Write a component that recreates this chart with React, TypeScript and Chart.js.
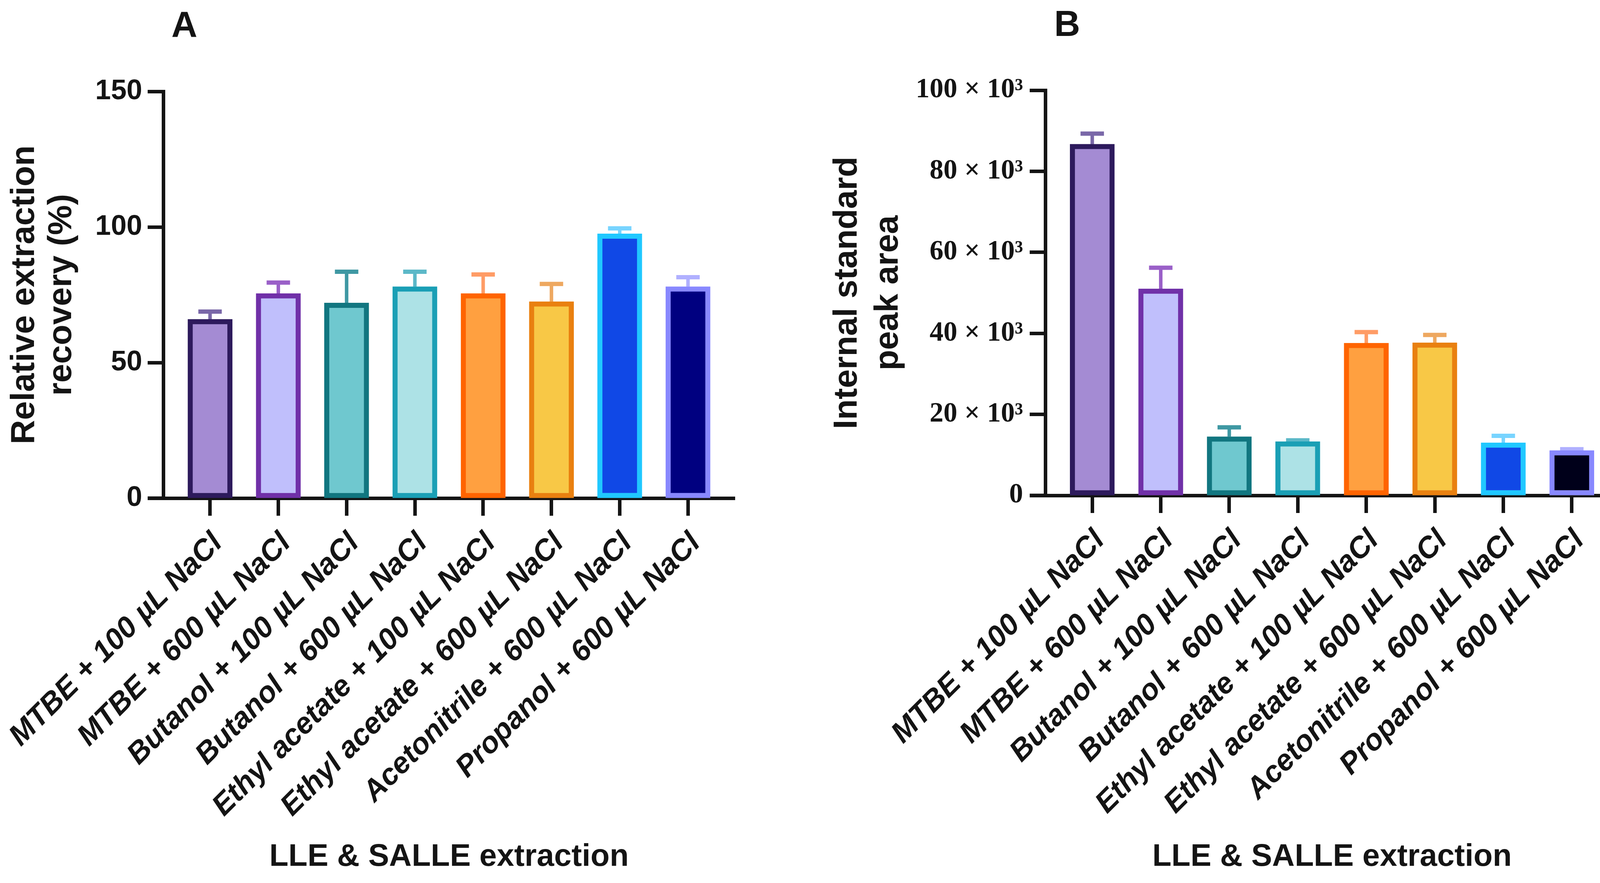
import { useEffect, useRef } from "react"
import { Chart, registerables } from "chart.js"

Chart.register(...registerables)

// data
const solvents = [
  "MTBE + 100 µL NaCl",
  "MTBE + 600 µL NaCl",
  "Butanol + 100 µL NaCl",
  "Butanol + 600 µL NaCl",
  "Ethyl acetate + 100 µL NaCl",
  "Ethyl acetate + 600 µL NaCl",
  "Acetonitrile + 600 µL NaCl",
  "Propanol + 600 µL NaCl",
]
const recovery = [66, 75.5, 72, 78, 75.5, 72.5, 97.5, 78]
const recoverySd = [2.8, 4, 11.5, 5.5, 7, 6.5, 2, 3.5]
const peakArea = [86700, 51000, 14500, 13300, 37600, 37700, 13000, 11100]
const peakAreaSd = [2600, 5200, 2300, 300, 2700, 1900, 1700, 300]
const recoveryTicks = [0, 50, 100, 150]
const peakAreaTicks = ["0", "20 × 10³", "40 × 10³", "60 × 10³", "80 × 10³", "100 × 10³"]

const fillsA = ["#a48bd3", "#c0bffc", "#6fc8cf", "#ade2e6", "#ffa040", "#f8c846", "#1048e6", "#000080"]
const fillsB = ["#a48bd3", "#c0bffc", "#6fc8cf", "#ade2e6", "#ffa040", "#f8c846", "#1048e6", "#00001a"]
const borders = ["#2d1a5c", "#7030a8", "#117680", "#1a9fb5", "#ff6400", "#e98010", "#20c8ff", "#8888ff"]
const whiskers = ["#7a68a8", "#9a60c8", "#3f98a3", "#5cb8c8", "#ff9c66", "#eea860", "#78d4ff", "#b0b0ff"]

const SANS = "'Liberation Sans', Arial, sans-serif"
const INK = "#141414"
const H = 2260
const W = 2085

const errorBars = {
  id: "errorBars",
  beforeDatasetsDraw(chart: any, _args: any, opts: any) {
    const { ctx, scales } = chart
    const pts = chart.data.datasets[0].data
    ctx.save()
    pts.forEach((p: any, i: number) => {
      const cx = scales.x.getPixelForValue(p.x)
      const base = scales.y.getPixelForValue(p.y)
      const top = scales.y.getPixelForValue(p.y + opts.sd[i])
      ctx.strokeStyle = whiskers[i]
      ctx.lineWidth = 9
      ctx.beginPath()
      ctx.moveTo(cx, base)
      ctx.lineTo(cx, top)
      ctx.stroke()
      ctx.lineWidth = 11
      ctx.beginPath()
      ctx.moveTo(cx - 30, top)
      ctx.lineTo(cx + 30, top)
      ctx.stroke()
    })
    ctx.restore()
  },
}

// GraphPad style: x axis line pokes out left of the y axis
const axisStub = {
  id: "axisStub",
  afterDraw(chart: any) {
    const { ctx, chartArea } = chart
    ctx.save()
    ctx.strokeStyle = INK
    ctx.lineWidth = 9
    ctx.beginPath()
    ctx.moveTo(chartArea.left - 40, chartArea.bottom)
    ctx.lineTo(chartArea.left, chartArea.bottom)
    ctx.stroke()
    ctx.restore()
  },
}

type PanelProps = {
  left: number
  values: number[]
  sd: number[]
  fills: string[]
  yTitle: string[]
  yMax: number
  yStep: number
  tickLabel: (v: number) => string
  tickFont: any
  tickPad: number
  area: { left: number; top: number; right: number; bottom: number }
  titlePad: number
  titleLine: number
}

function BarPanel(p: PanelProps) {
  const ref = useRef<HTMLCanvasElement>(null)

  useEffect(() => {
    if (!ref.current) return
    const padLeft = 10
    const chart = new Chart(ref.current, {
      type: "bar",
      data: {
        datasets: [
          {
            data: p.values.map((v, i) => ({ x: i, y: v })),
            backgroundColor: p.fills,
            borderColor: borders,
            borderWidth: 13,
            borderSkipped: false,
            barThickness: 114,
          },
        ],
      },
      plugins: [errorBars, axisStub],
      options: {
        animation: false,
        responsive: false,
        devicePixelRatio: 1,
        layout: { padding: { left: padLeft, top: p.area.top, right: W - p.area.right, bottom: 0 } },
        plugins: {
          legend: { display: false },
          tooltip: { enabled: false },
          errorBars: { sd: p.sd },
        } as any,
        scales: {
          x: {
            type: "linear",
            min: -0.685,
            max: 7.685,
            offset: false,
            afterBuildTicks: (axis: any) => {
              axis.ticks = solvents.map((_, i) => ({ value: i }))
            },
            afterFit: (axis: any) => {
              axis.height = H - p.area.bottom
              axis.paddingLeft = 0
              axis.paddingRight = 0
            },
            ticks: {
              autoSkip: false,
              minRotation: 45,
              maxRotation: 45,
              padding: 26,
              labelOffset: 20,
              color: INK,
              font: { family: SANS, size: 76, weight: "bold", style: "italic", lineHeight: 1.2 },
              callback: (v: any) => solvents[v] ?? "",
            },
            grid: { offset: false, drawOnChartArea: false, tickLength: 45, tickWidth: 9, tickColor: INK },
            border: { display: true, width: 9, color: INK },
            title: {
              display: true,
              text: "LLE & SALLE extraction",
              color: INK,
              padding: { top: 0, bottom: 18 },
              font: { family: SANS, size: 80, weight: "bold", lineHeight: 1.2 },
            },
          },
          y: {
            min: 0,
            max: p.yMax,
            afterFit: (axis: any) => {
              axis.width = p.area.left - padLeft
            },
            ticks: {
              stepSize: p.yStep,
              padding: p.tickPad,
              color: INK,
              font: p.tickFont,
              callback: (v: any) => p.tickLabel(v),
            },
            grid: { drawOnChartArea: false, tickLength: 40, tickWidth: 9, tickColor: INK },
            border: { display: true, width: 9, color: INK },
            title: {
              display: true,
              text: p.yTitle,
              color: INK,
              padding: { top: p.titlePad, bottom: 0 },
              font: { family: SANS, size: 86, weight: "bold", lineHeight: p.titleLine },
            },
          },
        },
      } as any,
    })
    return () => chart.destroy()
  }, [])

  return (
    <canvas
      ref={ref}
      width={W}
      height={H}
      style={{ position: "absolute", left: p.left, top: 0, width: W, height: H }}
    />
  )
}

const letter = (x: number, y: number): React.CSSProperties => ({
  position: "absolute",
  left: x,
  top: y,
  transform: "translate(-50%, -50%)",
  font: `bold 92px ${SANS}`,
  lineHeight: 1,
  color: INK,
})

export default function App() {
  return (
    <div style={{ position: "fixed", left: 0, top: 0, width: 4170, height: H, background: "#fff", overflow: "hidden" }}>
      <BarPanel
        left={0}
        values={recovery}
        sd={recoverySd}
        fills={fillsA}
        yTitle={["Relative extraction", "recovery (%)"]}
        yMax={150}
        yStep={50}
        tickLabel={(v) => (recoveryTicks.includes(v) ? String(v) : "")}
        tickFont={{ family: SANS, size: 72, weight: "bold" }}
        tickPad={14}
        area={{ left: 418, top: 234, right: 1881, bottom: 1275 }}
        titlePad={6}
        titleLine={1.105}
      />
      <BarPanel
        left={W}
        values={peakArea}
        sd={peakAreaSd}
        fills={fillsB}
        yTitle={["Internal standard", "peak area"]}
        yMax={100000}
        yStep={20000}
        tickLabel={(v) => peakAreaTicks[Math.round(v / 20000)] ?? ""}
        tickFont={{ family: "'Liberation Serif', 'Times New Roman', serif", size: 71, weight: "bold" }}
        tickPad={17}
        area={{ left: 2676 - W, top: 231, right: 4144 - W, bottom: 1268 }}
        titlePad={22}
        titleLine={1.22}
      />
      <div style={letter(472, 62)}>A</div>
      <div style={letter(2732, 60)}>B</div>
    </div>
  )
}
